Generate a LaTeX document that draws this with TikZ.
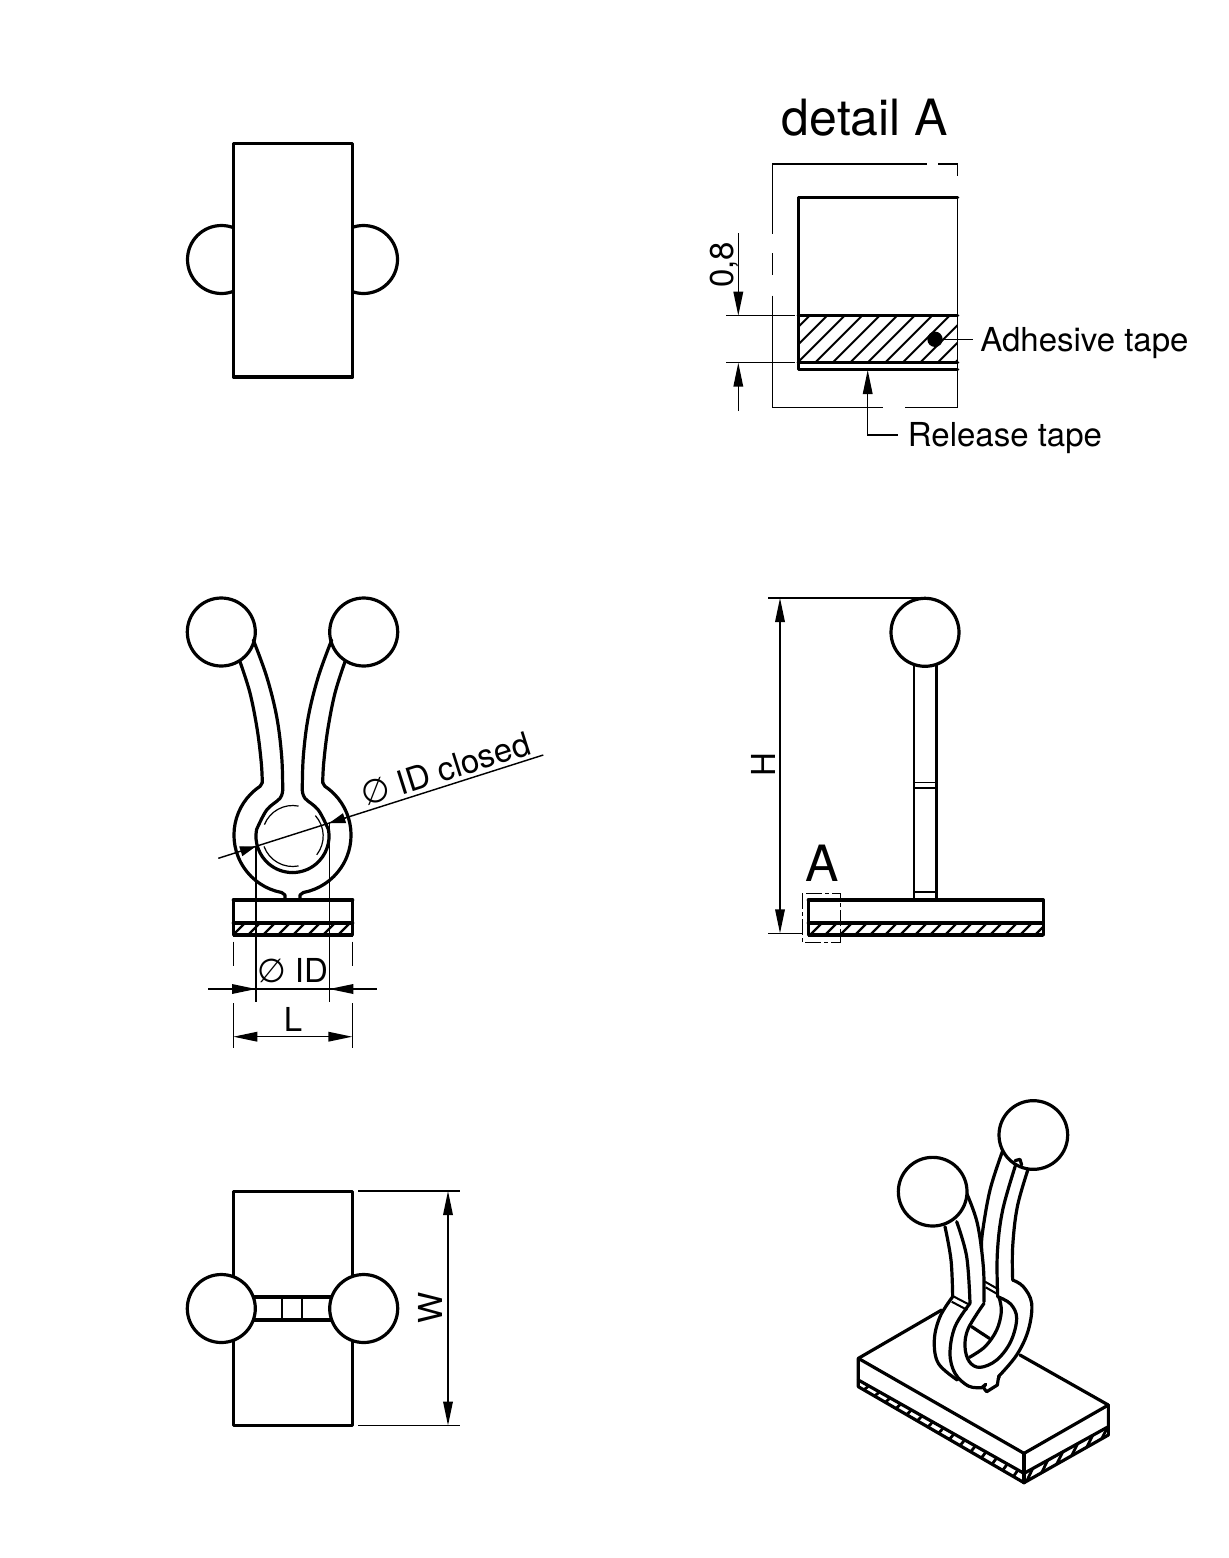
\documentclass[tikz,border=0pt]{standalone}
\usepackage{fontspec}
\setmainfont{TeX Gyre Heros}
\newfontfamily\phifont{DejaVu Sans}
\usetikzlibrary{arrows.meta}
\newcommand{\diam}{{\phifont ∅}}
\tikzset{
  x=0.5pt,y=-0.5pt,
  body/.style={line width=1.6pt,line join=round,line cap=round},
  thin line/.style={line width=0.72pt},
  hair/.style={line width=0.6pt},
  tipa/.tip={Triangle[length=12pt,width=4.8pt]},
  tipb/.tip={Triangle[length=8pt,width=5pt]},
  dim/.style={thin line,-tipa},
  dimb/.style={thin line,tipa-tipa},
  big/.style={inner sep=0pt,font=\fontsize{25}{26}\selectfont},
  lab/.style={inner sep=0pt,font=\fontsize{16.5}{18}\selectfont},
  hatchline/.style={line width=1.2pt},
}
\newcommand{\stripe}[3]{%
  \begin{scope}
    \clip (#1,923) rectangle (#2,935);
    \foreach \q in {#3} \draw[hatchline] (\q,935) -- (\q+12,923);
  \end{scope}
  \draw[body] (#1,923) -- (#2,923);
  \draw[line width=2pt] (#1,934.5) -- (#2,934.5);
  \draw[body] (#1,923) -- (#1,935) (#2,923) -- (#2,935);
}
\newcommand{\halfclip}{%
  \draw[body] plot[smooth,tension=0.6] coordinates {(240,661.7) (250,693) (257.3,730) (261.3,763) (262.3,782.7)};
  \draw[body] (262.3,782.7) -- (260.1,786.3) arc[start angle=236.4,end angle=100.7,radius=58.5] -- (285,895) -- (285,900);
  \draw[body] plot[smooth,tension=0.6] coordinates {(253.3,640) (266.7,676.7) (276.7,716.7) (281.7,756.7) (282.7,790)};
  \draw[body] plot[smooth,tension=0.6] coordinates {(282.7,790) (280,798.3) (266.7,810) (256.5,829.7)};
  \draw[body] (256.5,829.7) arc[start angle=190,end angle=90,radius=36.5];
}
\begin{document}
\begin{tikzpicture}
\useasboundingbox (0,0) rectangle (1229,1558);
\fill[white] (0,0) rectangle (1229,1558);

% ---------- top view
\draw[body] (221.5,259.5) circle[radius=34];
\draw[body] (363.5,259.5) circle[radius=34];
\draw[body,fill=white] (233.3,143.3) rectangle (352.7,377);

% ---------- detail A
\node[big,anchor=base west] (detailA) at (781.5,135) {detail A};
\draw[thin line] (926.7,164) -- (772.3,164) -- (772.3,234);
\draw[thin line] (938.3,164) -- (957.7,164) -- (957.7,175.7);
\draw[thin line] (772.3,253) -- (772.3,275);
\draw[thin line] (772.3,295.7) -- (772.3,407.7) -- (883,407.7);
\draw[thin line] (905,407.7) -- (957.7,407.7) -- (957.7,197);
\begin{scope}
  \clip (798.3,315.7) rectangle (957.7,362.7);
  \foreach \q in {745,762.5,...,960} \draw[line width=1pt] (\q,362.7) -- (\q+47,315.7);
\end{scope}
\draw[body] (957.7,197.3) -- (798.3,197.3) -- (798.3,369.3) -- (957.7,369.3);
\draw[body] (798.3,315.7) -- (957.7,315.7);
\draw[body] (798.3,362.7) -- (957.7,362.7);
\fill (935,339.3) circle[radius=7.7];
\draw[thin line] (935,339.3) -- (972.7,339.3);
\node[lab,anchor=base west] (adh) at (980,351) {Adhesive tape};
\node[lab,anchor=base west] (rel) at (907.5,446) {Release tape};
\draw[thin line,tipa-] (867.7,370) -- (867.7,435) -- (898.3,435);
\draw[thin line] (726,315.7) -- (795,315.7);
\draw[thin line] (726,362.7) -- (795,362.7);
\draw[dim] (738.3,233.3) -- (738.3,315.7);
\draw[dim] (738.3,411) -- (738.3,362.7);
\node[lab,rotate=90,anchor=base] (d08) at (733,265) {0,8};

% ---------- front view
\draw[body] (221.3,632) circle[radius=34];
\draw[body] (363.7,632) circle[radius=34];
\halfclip
\begin{scope}[shift={(585,0)},xscale=-1]
  \halfclip
\end{scope}
\begin{scope}[hair]
  \draw (292.7,836) ++(-158:30.5) arc[start angle=-158,end angle=-79,radius=30.5];
  \draw (292.7,836) ++(160:30.5) arc[start angle=160,end angle=79,radius=30.5];
  \draw (292.7,836) ++(-42:30.5) arc[start angle=-42,end angle=38,radius=30.5];
\end{scope}
\draw[thin line] (218.3,858.3) -- (543.3,755);
\draw[thin line,-tipb] (241.7,850.9) -- (256,846.3);
\draw[thin line,-tipb] (346,817.7) -- (329.3,823);
\node[lab,rotate=17.6,anchor=base west] (idc) at (365,807) {\diam{} ID closed};
\draw[body] (233.3,900) -- (352.7,900);
\draw[body] (233.3,900) -- (233.3,923);
\draw[body] (352.7,900) -- (352.7,923);
\stripe{233.3}{352.7}{218,233,...,365}
\draw[thin line] (256,846) -- (256,1001.7);
\draw[thin line] (329.3,823) -- (329.3,1001.7);
\draw[thin line] (233.3,941.7) -- (233.3,966) (352.3,941.7) -- (352.3,966);
\draw[thin line] (233.3,1003) -- (233.3,1048) (352.3,1003) -- (352.3,1048);
\draw[thin line] (208.3,989) -- (376.7,989);
\draw[dim] (208.3,989) -- (256,989);
\draw[dim] (376.7,989) -- (329.3,989);
\draw[dimb] (233.3,1036.7) -- (352.3,1036.7);
\node[lab,anchor=base] (idn) at (292.5,982) {\diam{} ID};
\node[lab,anchor=base] (ln) at (293,1031.5) {L};

% ---------- side view
\draw[thin line] (768,598) -- (925,598);
\draw[thin line] (768.3,933.3) -- (802.7,933.3);
\draw[dimb] (780,598) -- (780,933.3);
\node[lab,rotate=90,anchor=base] (hn) at (775,765) {H};
\draw[line width=1.2pt] (913.8,660) -- (913.8,900);
\draw[body] (936.7,660) -- (936.7,900);
\draw[thin line] (913.8,782.7) -- (936.7,782.7) (913.8,788) -- (936.7,788);
\draw[line width=1.1pt] (913.8,892) -- (936.7,892);
\draw[body,fill=white] (925,632.3) circle[radius=34];
\draw[body] (808.3,900) -- (1043.3,900);
\draw[body] (808.3,900) -- (808.3,923) (1043.3,900) -- (1043.3,923);
\stripe{808.3}{1043.3}{795,810,...,1050}
\draw[thin line,dash pattern=on 8pt off 1.5pt on 2pt off 1.5pt] (802.7,893.3) rectangle (840.7,942.7);
\node[big,anchor=base] (an) at (822.5,881) {A};

% ---------- bottom view
\draw[body] (233.3,1191.3) rectangle (352.7,1425.5);
\draw[body,fill=white] (250,1297) rectangle (335,1320);
\draw[line width=1pt] (282,1297) -- (282,1320) (302,1297) -- (302,1320);
\draw[body,fill=white] (221.3,1308.5) circle[radius=34];
\draw[body,fill=white] (363.7,1308.5) circle[radius=34];
\draw[thin line] (358,1191) -- (460,1191) (358,1425.5) -- (460,1425.5);
\draw[dimb] (448,1191) -- (448,1425.5);
\node[lab,rotate=90,anchor=base] (wn) at (442,1308) {W};

% ---------- isometric view (zoomed coordinates)
\begin{scope}[shift={(840,1090)},x=0.16667pt,y=-0.16667pt]
  % hatch
  \begin{scope}
    \clip (55,870) -- (552,1150) -- (552,1178) -- (55,890) -- cycle;
    \foreach \q in {40,72,...,560}
      \draw[line width=1.4pt] ({\q},{890+(\q-55)*0.5795}) -- ({\q+14},{870+(\q+14-55)*0.5634});
  \end{scope}
  \begin{scope}
    \clip (552,1150) -- (805,1010) -- (805,1035) -- (552,1178) -- cycle;
    \foreach \q in {560,605,...,830}
      \draw[line width=1.4pt] ({\q},{1178-(\q-552)*0.565}) -- ({\q+18},{1150-(\q+18-552)*0.553});
  \end{scope}
  \draw[body] (55,805) -- (552,1090) -- (805,945);
  \draw[body] (55,805) -- (305,660);
  \draw[body] (395,710) -- (448,745);
  \draw[body] (540,795) -- (805,945);
  \draw[body] (55,805) -- (55,890) -- (552,1178) -- (805,1035) -- (805,945);
  \draw[body] (552,1090) -- (552,1178);
  \draw[body] (55,870) -- (552,1150) -- (805,1010);
  % rear arm
  \draw[body] plot[smooth,tension=0.6] coordinates {(487,185) (450,300) (427,430) (425,480)};
  \draw[body] plot[smooth,tension=0.6] coordinates {(530,215) (488,360) (472,490) (473,620)};
  \draw[body] plot[smooth,tension=0.6] coordinates {(478,625) (484,665) (470,720) (435,770) (388,802)};
  \draw[body] plot[smooth,tension=0.6] coordinates {(565,235) (532,350) (518,470) (518,570)};
  \draw[body] plot[smooth,tension=0.6] coordinates {(518,570) (550,590) (575,640) (565,720) (530,795) (475,860)};
  \draw[body] plot[smooth,tension=0.6] coordinates {(473,620) (512,642) (530,685) (512,755) (470,810) (420,832) (388,815) (375,770) (385,715) (432,640)};
  \draw[line width=1pt] (435,575) -- (472,596) (437,592) -- (472,612);
  % front arm
  \draw[body] plot[smooth,tension=0.6] coordinates {(380,310) (412,400) (430,530) (432,635)};
  \draw[body] plot[smooth,tension=0.6] coordinates {(315,410) (333,510) (338,620)};
  \draw[body] plot[smooth,tension=0.6] coordinates {(338,620) (300,680) (283,750) (295,820) (352,870)};
  \draw[body] plot[smooth,tension=0.6] coordinates {(390,640) (345,710) (330,790) (345,850) (385,888) (425,893)};
  \draw[body] plot[smooth,tension=0.6] coordinates {(350,395) (380,500) (390,640)};
  \draw[body] (425,893) -- (437,883) -- (430,893) -- (440,905) -- (472,885) -- (475,865) -- (478,860);
  \draw[line width=1pt] (342,620) -- (390,645) (335,635) -- (382,660);
  % balls
  \draw[body,fill=white] (580,135) circle[radius=103];
  \draw[body,fill=white] (278,305) circle[radius=103];
  \draw[body] (525,212) -- (540,208) -- (545,225);
\end{scope}
\end{tikzpicture}
\end{document}
